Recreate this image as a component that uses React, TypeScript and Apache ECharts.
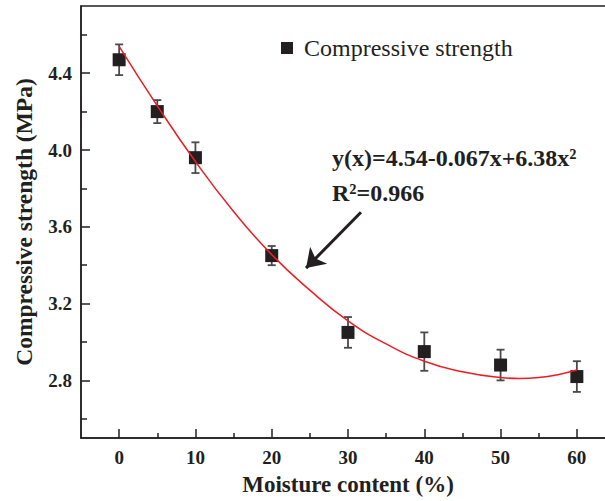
import React, { useEffect, useRef } from "react";
import * as echarts from "echarts";

const moisture = [0, 5, 10, 20, 30, 40, 50, 60];
const strength = [4.47, 4.2, 3.96, 3.45, 3.05, 2.95, 2.88, 2.82];
const errors = [0.08, 0.06, 0.08, 0.05, 0.08, 0.1, 0.08, 0.08];

const fitX = [0, 5, 10, 15, 20, 25, 30, 35, 40, 45, 50, 52.5, 55, 57.5, 60];
const fitY = [4.54, 4.23, 3.94, 3.68, 3.455, 3.27, 3.11, 2.99, 2.9, 2.845, 2.815, 2.81, 2.815, 2.83, 2.854];

const xMajor = [0, 10, 20, 30, 40, 50, 60];
const xMinor = [5, 15, 25, 35, 45, 55];
const yMajor = [2.8, 3.2, 3.6, 4.0, 4.4];
const yMinor = [2.6, 3.0, 3.4, 3.8, 4.2, 4.6];

const arrowFrom = [31.7, 3.676];
const arrowTo = [24.5, 3.385];

const legendName = "Compressive strength";
const eqLine1 = "y(x)=4.54-0.067x+6.38x²";
const eqLine2 = "R²=0.966";

const FONT = "'Liberation Serif', 'Times New Roman', serif";
const INK = "#231f20";

export default function App() {
  const ref = useRef<HTMLDivElement>(null);
  useEffect(() => {
    if (!ref.current) return;
    const chart = echarts.init(ref.current, undefined, { renderer: "svg" });
    const xMin = -5, xMax = 65, yMin = 2.5, yMax = 4.75;
    const baseX = { type: "value", min: xMin, max: xMax, gridIndex: 0, splitLine: { show: false } };
    const baseY = { type: "value", min: yMin, max: yMax, gridIndex: 0, splitLine: { show: false } };
    chart.setOption({
      animation: false,
      backgroundColor: "#ffffff",
      grid: { left: 81, right: 5, top: 6, bottom: 62, show: true, borderColor: INK, borderWidth: 1.5 },
      legend: {
        left: 281, top: 36, padding: 0,
        icon: "rect", itemWidth: 12, itemHeight: 12,
        data: [legendName],
        itemStyle: { opacity: 1, color: INK },
        textStyle: { fontFamily: FONT, fontSize: 24, color: INK, padding: [0, 0, 0, 6] },
      },
      xAxis: [
        {
          ...baseX,
          position: "bottom",
          name: "Moisture content (%)",
          nameLocation: "middle",
          nameGap: 35,
          nameTextStyle: { fontFamily: FONT, fontSize: 23, fontWeight: "bold", color: INK },
          axisLine: { show: true, onZero: false, lineStyle: { color: INK, width: 1.5 } },
          axisTick: { show: true, inside: true, length: 9, customValues: xMajor, lineStyle: { color: INK, width: 1.5 } },
          axisLabel: { customValues: xMajor, margin: 10, fontFamily: FONT, fontSize: 19, fontWeight: "bold", color: INK },
        },
        {
          ...baseX,
          position: "bottom",
          axisLine: { show: false, onZero: false },
          axisTick: { show: true, inside: true, length: 5, customValues: xMinor, lineStyle: { color: INK, width: 1.5 } },
          axisLabel: { show: false },
        },
      ],
      yAxis: [
        {
          ...baseY,
          position: "left",
          name: "Compressive strength (MPa)",
          nameLocation: "middle",
          nameGap: 45,
          nameTextStyle: { fontFamily: FONT, fontSize: 23.5, fontWeight: "bold", color: INK },
          axisLine: { show: true, onZero: false, lineStyle: { color: INK, width: 1.5 } },
          axisTick: { show: true, inside: true, length: 9, customValues: yMajor, lineStyle: { color: INK, width: 1.5 } },
          axisLabel: {
            customValues: yMajor, margin: 9, fontFamily: FONT, fontSize: 19, fontWeight: "bold", color: INK,
            formatter: (v: number) => v.toFixed(1),
          },
        },
        {
          ...baseY,
          position: "left",
          axisLine: { show: false, onZero: false },
          axisTick: { show: true, inside: true, length: 6, customValues: yMinor, lineStyle: { color: INK, width: 1.5 } },
          axisLabel: { show: false },
        },
      ],
      graphic: [
        {
          type: "text",
          style: { x: 332, y: 158, text: eqLine1, verticalAlign: "middle", fontFamily: FONT, fontSize: 24, fontWeight: "bold", fill: INK },
        },
        {
          type: "text",
          style: { x: 332, y: 193, text: eqLine2, verticalAlign: "middle", fontFamily: FONT, fontSize: 24, fontWeight: "bold", fill: INK },
        },
      ],
      series: [
        {
          type: "custom",
          name: "error",
          xAxisIndex: 0,
          yAxisIndex: 0,
          z: 2,
          data: moisture.map((m, i) => [m, strength[i] - errors[i], strength[i] + errors[i]]),
          renderItem: (params: any, api: any) => {
            const x = api.value(0);
            const lo = api.coord([x, api.value(1)]);
            const hi = api.coord([x, api.value(2)]);
            const hw = 4;
            const style = { stroke: "#4a4a4a", lineWidth: 1.8 };
            return {
              type: "group",
              children: [
                { type: "line", shape: { x1: lo[0], y1: lo[1], x2: hi[0], y2: hi[1] }, style },
                { type: "line", shape: { x1: lo[0] - hw, y1: lo[1], x2: lo[0] + hw, y2: lo[1] }, style },
                { type: "line", shape: { x1: hi[0] - hw, y1: hi[1], x2: hi[0] + hw, y2: hi[1] }, style },
              ],
            };
          },
          silent: true,
        },
        {
          type: "scatter",
          name: legendName,
          xAxisIndex: 0,
          yAxisIndex: 0,
          z: 3,
          symbol: "rect",
          symbolSize: 13,
          itemStyle: { color: INK, opacity: 1 },
          data: moisture.map((m, i) => [m, strength[i]]),
        },
        {
          type: "line",
          name: "fit",
          xAxisIndex: 0,
          yAxisIndex: 0,
          z: 4,
          smooth: true,
          showSymbol: false,
          symbol: "none",
          lineStyle: { color: "#ee1c25", width: 1.5 },
          data: fitX.map((x, i) => [x, fitY[i]]),
        },
        {
          type: "lines",
          name: "arrow",
          coordinateSystem: "cartesian2d",
          xAxisIndex: 0,
          yAxisIndex: 0,
          z: 5,
          symbol: ["none", "arrow"],
          symbolSize: 18,
          lineStyle: { color: INK, width: 3, opacity: 1 },
          data: [{ coords: [arrowFrom, arrowTo] }],
        },
      ],
    });
    return () => chart.dispose();
  }, []);
  return (
    <div style={{ position: "absolute", left: 0, top: 0, width: 605, height: 501, overflow: "hidden", background: "#fff" }}>
      <div ref={ref} style={{ width: 620, height: 501 }} />
    </div>
  );
}
